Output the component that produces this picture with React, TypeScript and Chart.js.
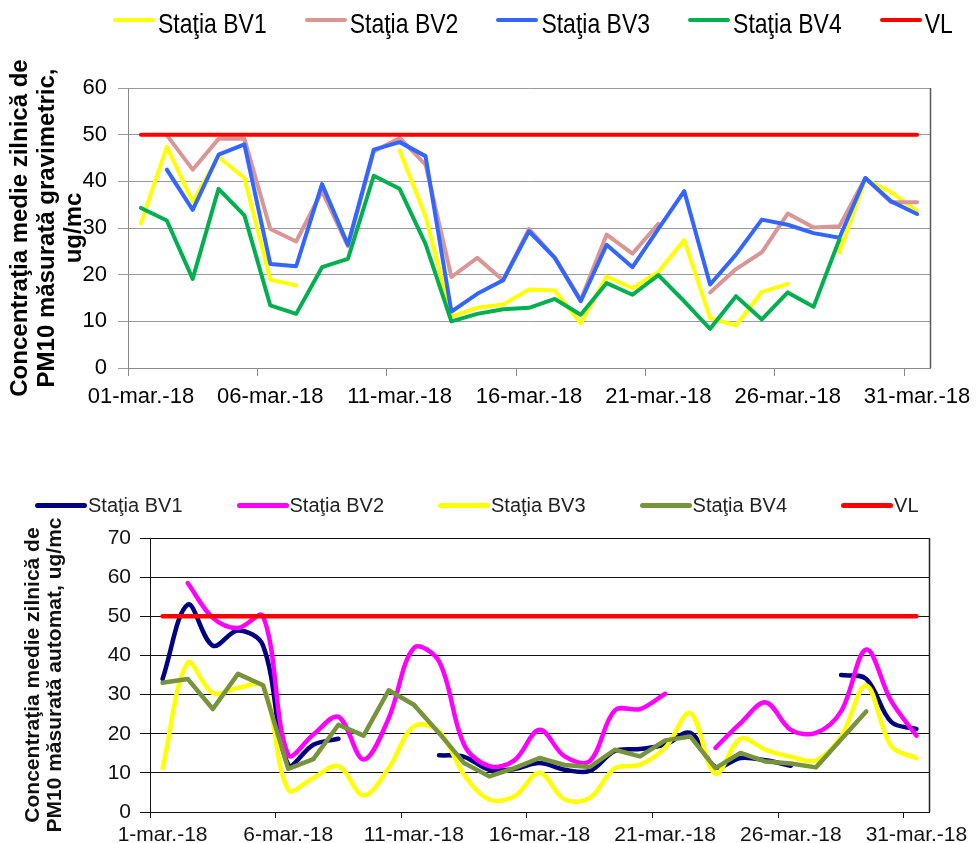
import React, { useEffect, useRef } from 'react';
import { Chart, registerables } from 'chart.js';

Chart.register(...registerables);

const FONT = "'Liberation Sans', Arial, Helvetica, sans-serif";

// ---------------- Top chart: gravimetric ----------------
const gravDays = [
  '01-mar.-18', '02-mar.-18', '03-mar.-18', '04-mar.-18', '05-mar.-18', '06-mar.-18', '07-mar.-18',
  '08-mar.-18', '09-mar.-18', '10-mar.-18', '11-mar.-18', '12-mar.-18', '13-mar.-18', '14-mar.-18',
  '15-mar.-18', '16-mar.-18', '17-mar.-18', '18-mar.-18', '19-mar.-18', '20-mar.-18', '21-mar.-18',
  '22-mar.-18', '23-mar.-18', '24-mar.-18', '25-mar.-18', '26-mar.-18', '27-mar.-18', '28-mar.-18',
  '29-mar.-18', '30-mar.-18', '31-mar.-18',
];
const gravTickLabels = ['01-mar.-18', '06-mar.-18', '11-mar.-18', '16-mar.-18', '21-mar.-18', '26-mar.-18', '31-mar.-18'];
const gravNames = ['Staţia BV1', 'Staţia BV2', 'Staţia BV3', 'Staţia BV4', 'VL'];
const gravColors = ['#FFFF00', '#D99694', '#3366FF', '#00B050', '#FF0000'];
const gravBV1 = [31, 47.4, 35.7, 45.2, 40.7, 18.9, 17.7, null, null, null, 46.6, 32.5, 11, 12.9, 13.6, 16.8, 16.6, 9.6, 19.6, 17.1, 20.6, 27.4, 10.7, 9.1, 16.3, 18, null, 24.8, 40.4, 37.7, 33.6];
const gravBV2 = [null, 49.9, 42.5, 49.1, 49.1, 29.8, 27.1, 37.9, 26.1, 46.4, 49.3, 43.6, 19.5, 23.6, 18.8, 29.8, 23.6, 14.6, 28.6, 24.5, 30.9, null, 16.2, 21.2, 24.8, 33.1, 30.1, 30.4, 40.7, 35.5, 35.5];
const gravBV3 = [null, 42.5, 33.9, 45.7, 47.9, 22.3, 21.8, 39.4, 26.4, 46.8, 48.4, 45.4, 12.1, 15.9, 18.8, 29.3, 23.6, 14.3, 26.4, 21.6, 29.8, 37.9, 17.9, 24.3, 31.8, 30.7, 28.9, 27.9, 40.7, 35.7, 33];
const gravBV4 = [34.3, 31.6, 19.1, 38.4, 32.7, 13.4, 11.6, 21.6, 23.4, 41.2, 38.4, 26.6, 10, 11.6, 12.6, 12.9, 14.8, 11.4, 18.2, 15.7, 19.9, 14.3, 8.4, 15.4, 10.4, 16.2, 13.1, 27.6, null, null, null];
const gravVL = [50, 50, 50, 50, 50, 50, 50, 50, 50, 50, 50, 50, 50, 50, 50, 50, 50, 50, 50, 50, 50, 50, 50, 50, 50, 50, 50, 50, 50, 50, 50];
const gravYTitle = ['Concentraţia medie zilnică de', 'PM10 măsurată gravimetric,', 'ug/mc'];

// ---------------- Bottom chart: automatic ----------------
const autoDays = [
  '1-mar.-18', '2-mar.-18', '3-mar.-18', '4-mar.-18', '5-mar.-18', '6-mar.-18', '7-mar.-18',
  '8-mar.-18', '9-mar.-18', '10-mar.-18', '11-mar.-18', '12-mar.-18', '13-mar.-18', '14-mar.-18',
  '15-mar.-18', '16-mar.-18', '17-mar.-18', '18-mar.-18', '19-mar.-18', '20-mar.-18', '21-mar.-18',
  '22-mar.-18', '23-mar.-18', '24-mar.-18', '25-mar.-18', '26-mar.-18', '27-mar.-18', '28-mar.-18',
  '29-mar.-18', '30-mar.-18', '31-mar.-18',
];
const autoTickLabels = ['1-mar.-18', '6-mar.-18', '11-mar.-18', '16-mar.-18', '21-mar.-18', '26-mar.-18', '31-mar.-18'];
const autoNames = ['Staţia BV1', 'Staţia BV2', 'Staţia BV3', 'Staţia BV4', 'VL'];
const autoColors = ['#000080', '#FF00FF', '#FFFF00', '#77933C', '#FF0000'];
const autoSmooth = [true, true, true, false, false];
const autoBV1 = [34, 53, 42.5, 46.4, 42.5, 12.1, 17.2, 18.7, null, null, null, 14.5, 14.1, 10.8, 11, 12.5, 10.8, 10.5, 15.6, 16.1, 17.2, 20.2, 11.5, 13.8, 13.2, 11.8, null, 35, 34, 23, 21.2];
const autoBV2 = [null, 58.5, 49.6, 47, 50, 14.6, 19.8, 24.3, 13.4, 24, 41.9, 38.5, 17.2, 11.7, 13.2, 21, 14.2, 13, 26, 26.3, 30.2, null, 16.4, 22.7, 28, 21, 20.2, 25.7, 41.5, 28.3, 19.5];
const autoBV3 = [11.2, 38.1, 30.4, 31.7, 32.1, 5.7, 8.7, 11.7, 4.2, 11.2, 21.9, 20.6, 9.5, 3.2, 4, 10, 3.2, 3.6, 11.2, 12.1, 16.4, 25.3, 9.8, 18.7, 15.9, 14.1, 13.2, 19.3, 32.3, 16.8, 13.8];
const autoBV4 = [33, 34, 26.3, 35.3, 32.4, 11, 13.5, 22.3, 19.5, 31.1, 27.4, 20.2, 12.5, 9.1, 11.2, 13.8, 12, 11.5, 15.9, 14.2, 18.3, 19.3, 11.2, 15.1, 12.9, 12.4, 11.4, 18.5, 25.7, null, null];
const autoVL = [50, 50, 50, 50, 50, 50, 50, 50, 50, 50, 50, 50, 50, 50, 50, 50, 50, 50, 50, 50, 50, 50, 50, 50, 50, 50, 50, 50, 50, 50, 50];
const autoYTitle = ['Concentraţia medie zilnică de', 'PM10 măsurată automat, ug/mc'];

// ---------------- helpers ----------------
const framePlugin = {
  id: 'frame',
  afterDatasetsDraw(chart: any, _args: any, opts: any) {
    const { ctx, chartArea } = chart;
    ctx.save();
    ctx.strokeStyle = opts.color;
    ctx.lineWidth = opts.width;
    const x = Math.round(chartArea.right) + 0.5;
    ctx.beginPath();
    ctx.moveTo(x, chartArea.top);
    ctx.lineTo(x, chartArea.bottom);
    ctx.stroke();
    ctx.restore();
  },
};

function buildDatasets(names: string[], colors: string[], data: (number | null)[][], width: number, smooth: boolean[]) {
  const n = names.length;
  return names.map((label, i) => ({
    label,
    data: data[i],
    borderColor: colors[i],
    backgroundColor: colors[i],
    borderWidth: width,
    pointRadius: 0,
    pointHoverRadius: 0,
    tension: smooth[i] ? 0.35 : 0,
    fill: false,
    spanGaps: false,
    borderCapStyle: 'round',
    borderJoinStyle: 'round',
    order: n - i,
  }));
}

function xScale(days: string[], shown: string[], o: any) {
  return {
    type: 'category',
    offset: true,
    grid: {
      offset: true,
      drawOnChartArea: false,
      drawTicks: true,
      tickLength: o.tickLength,
      lineWidth: 1,
      color: (c: any) => (c.index !== undefined && c.index % 5 === 0 ? o.lineColor : 'rgba(0,0,0,0)'),
    },
    border: { color: o.lineColor, width: 1 },
    ticks: {
      autoSkip: false,
      maxRotation: 0,
      minRotation: 0,
      padding: o.padding,
      color: o.textColor,
      font: { family: FONT, size: o.fontSize },
      callback: (_v: any, index: number) => (shown.includes(days[index]) ? days[index] : ''),
    },
    afterFit: (s: any) => {
      s.height = o.height;
      s.paddingLeft = 0;
      s.paddingRight = 0;
    },
  };
}

function LegendRow(props: any) {
  const { names, colors, left, centerY, gap, lineW, lineH, lineDy, textGap, fontSize, scaleY, color } = props;
  return (
    <div style={{ position: 'absolute', left, top: centerY - 20, height: 40, display: 'flex', alignItems: 'center', gap, whiteSpace: 'nowrap' }}>
      {names.map((n: string, i: number) => (
        <div key={n} style={{ display: 'flex', alignItems: 'center' }}>
          <div style={{ width: lineW, height: lineH, background: colors[i], borderRadius: lineH / 2, position: 'relative', top: lineDy, marginRight: textGap }} />
          <span style={{ fontFamily: FONT, fontSize, lineHeight: 1, color, display: 'inline-block', transform: `scaleY(${scaleY})` }}>{n}</span>
        </div>
      ))}
    </div>
  );
}

export default function App() {
  const topRef = useRef<HTMLCanvasElement | null>(null);
  const botRef = useRef<HTMLCanvasElement | null>(null);

  useEffect(() => {
    const top = new Chart(topRef.current as HTMLCanvasElement, {
      type: 'line',
      data: {
        labels: gravDays,
        datasets: buildDatasets(gravNames, gravColors, [gravBV1, gravBV2, gravBV3, gravBV4, gravVL], 4, [false, false, false, false, false]) as any,
      },
      plugins: [framePlugin as any],
      options: {
        animation: false,
        responsive: false,
        maintainAspectRatio: false,
        devicePixelRatio: 1,
        layout: { padding: { top: 88, right: 46, bottom: 22, left: 0 } },
        plugins: {
          legend: { display: false },
          tooltip: { enabled: false },
          frame: { color: '#5a5a5a', width: 1.5 },
        } as any,
        scales: {
          x: xScale(gravDays, gravTickLabels, { tickLength: 8, lineColor: '#8a8a8a', padding: 8, textColor: '#000', fontSize: 22, height: 40 }) as any,
          y: {
            min: 0,
            max: 60,
            ticks: { stepSize: 10, padding: 11, color: '#000', font: { family: FONT, size: 22 } },
            grid: { color: '#9a9a9a', lineWidth: 1, tickLength: 10 },
            border: { color: '#8a8a8a', width: 1 },
            title: {
              display: true,
              text: gravYTitle,
              color: '#000',
              font: { family: FONT, size: 24, weight: 'bold', lineHeight: 1.13 },
              padding: { top: 7, bottom: 0 },
            },
            afterFit: (s: any) => {
              s.width = 128;
            },
          } as any,
        },
      },
    });

    const bot = new Chart(botRef.current as HTMLCanvasElement, {
      type: 'line',
      data: {
        labels: autoDays,
        datasets: buildDatasets(autoNames, autoColors, [autoBV1, autoBV2, autoBV3, autoBV4, autoVL], 4.5, autoSmooth) as any,
      },
      plugins: [framePlugin as any],
      options: {
        animation: false,
        responsive: false,
        maintainAspectRatio: false,
        devicePixelRatio: 1,
        layout: { padding: { top: 68, right: 47, bottom: 1, left: 0 } },
        plugins: {
          legend: { display: false },
          tooltip: { enabled: false },
          frame: { color: '#222', width: 1.5 },
        } as any,
        scales: {
          x: xScale(autoDays, autoTickLabels, { tickLength: 6, lineColor: '#111', padding: 5, textColor: '#111', fontSize: 21, height: 30 }) as any,
          y: {
            min: 0,
            max: 70,
            ticks: { stepSize: 10, padding: 9, color: '#111', font: { family: FONT, size: 21 } },
            grid: { color: '#111', lineWidth: 1, tickLength: 10 },
            border: { color: '#111', width: 1 },
            title: {
              display: true,
              text: autoYTitle,
              color: '#111',
              font: { family: FONT, size: 21, weight: 'bold', lineHeight: 1.05 },
              padding: { top: 22, bottom: 0 },
            },
            afterFit: (s: any) => {
              s.width = 150;
            },
          } as any,
        },
      },
    });

    return () => {
      top.destroy();
      bot.destroy();
    };
  }, []);

  return (
    <div style={{ position: 'fixed', left: 0, top: 0, width: 976, height: 843, background: '#fff', overflow: 'hidden' }}>
      <canvas ref={topRef} width={976} height={430} style={{ position: 'absolute', left: 0, top: 0, width: 976, height: 430, display: 'block' }} />
      <canvas ref={botRef} width={976} height={373} style={{ position: 'absolute', left: 0, top: 470, width: 976, height: 373, display: 'block' }} />
      <LegendRow names={gravNames} colors={gravColors} left={113} centerY={23} gap={38} lineW={42} lineH={4} lineDy={-3} textGap={3} fontSize={23} scaleY={1.2} color="#000" />
      <LegendRow names={autoNames} colors={autoColors} left={35} centerY={505} gap={54} lineW={52} lineH={5} lineDy={0} textGap={1} fontSize={20} scaleY={1} color="#222" />
    </div>
  );
}
